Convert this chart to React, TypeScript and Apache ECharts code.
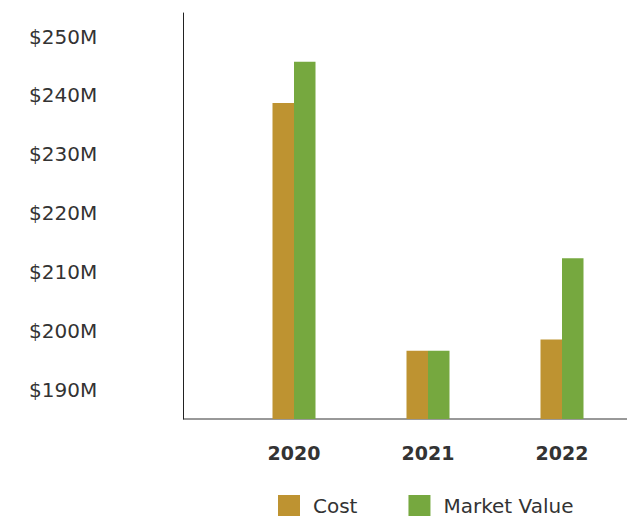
import React, { useEffect, useRef } from "react";
import * as echarts from "echarts";

const years = ["2020", "2021", "2022"];
const costValues = [238.7, 196.6, 198.5];
const marketValues = [245.7, 196.6, 212.3];
const seriesNames = ["Cost", "Market Value"];
const yMin = 185;
const yMax = 254;

export default function App() {
  const ref = useRef<HTMLDivElement>(null);
  useEffect(() => {
    if (!ref.current) return;
    const chart = echarts.init(ref.current, null, { renderer: "svg" });
    const font = "DejaVu Sans";
    chart.setOption({
      animation: false,
      backgroundColor: "#ffffff",
      grid: { left: 227, right: 0, top: 13, bottom: 98, containLabel: false },
      legend: {
        data: seriesNames,
        left: 278,
        top: 495,
        padding: 0,
        icon: "rect",
        itemWidth: 22,
        itemHeight: 21,
        itemGap: 51,
        textStyle: { fontFamily: font, fontSize: 20, color: "#333", padding: [0, 0, 0, 8] },
      },
      xAxis: {
        type: "category",
        data: years,
        axisLine: { show: false },
        axisTick: { show: false },
        axisLabel: { margin: 24, fontFamily: font, fontSize: 19, fontWeight: "bold", color: "#333" },
      },
      yAxis: {
        type: "value",
        min: yMin,
        max: yMax,
        interval: 5,
        offset: 44,
        axisLine: { show: true, lineStyle: { color: "#222", width: 1 } },
        axisTick: { show: false },
        splitLine: { show: false },
        axisLabel: {
          align: "left",
          margin: 154,
          fontFamily: font,
          fontSize: 20,
          color: "#333",
          formatter: (v: number) => (v % 10 === 0 ? `$${v}M` : ""),
        },
      },
      graphic: [
        {
          type: "line",
          shape: { x1: 183, y1: 419, x2: 627, y2: 419 },
          style: { stroke: "#333", lineWidth: 1 },
        },
      ],
      series: [
        {
          name: seriesNames[0],
          type: "bar",
          data: costValues,
          barWidth: 21.5,
          barGap: "0%",
          itemStyle: { color: "#BE9331" },
        },
        {
          name: seriesNames[1],
          type: "bar",
          data: marketValues,
          barWidth: 21.5,
          barGap: "0%",
          itemStyle: { color: "#76A83F" },
        },
      ],
    });
    return () => chart.dispose();
  }, []);
  return (
    <div
      ref={ref}
      style={{ position: "fixed", left: 0, top: 0, width: 629, height: 517 }}
    />
  );
}
